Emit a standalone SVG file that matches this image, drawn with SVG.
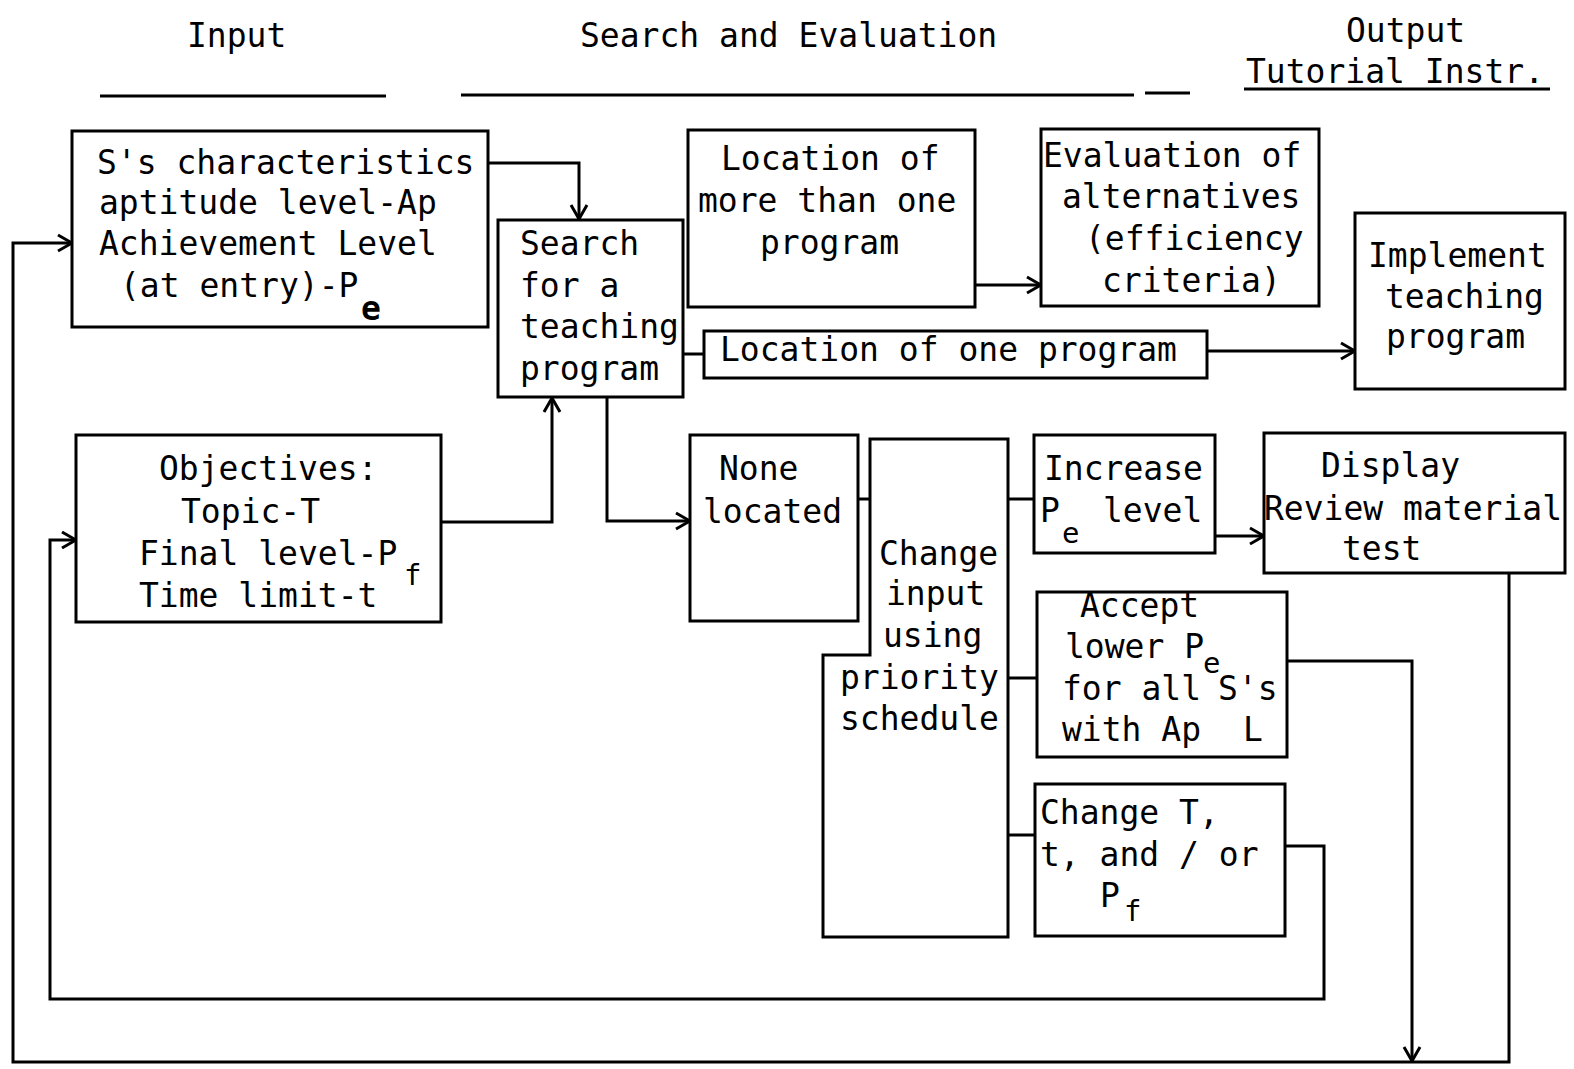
<svg xmlns="http://www.w3.org/2000/svg" width="1574" height="1069" viewBox="0 0 1574 1069">
<style>
.t{font-family:"DejaVu Sans Mono","Liberation Mono",monospace;font-size:33px;fill:#000}
.s{font-family:"DejaVu Sans Mono","Liberation Mono",monospace;font-size:29px;fill:#000}
.b{fill:#fff;stroke:#000;stroke-width:3}
.c{fill:none;stroke:#000;stroke-width:3}
.u{stroke:#000;stroke-width:3}
</style>
<defs>
<marker id="ah" viewBox="0 0 20 20" refX="18" refY="10" markerWidth="20" markerHeight="20" markerUnits="userSpaceOnUse" orient="auto">
<path d="M4,2 L18,10 L4,18" fill="none" stroke="#000" stroke-width="3"/>
</marker>
</defs>
<rect width="1574" height="1069" fill="#fff"/>

<g id="headers">
<text class="t" x="187" y="47">Input</text>
<text class="t" x="580" y="47">Search and Evaluation</text>
<text class="t" x="1346" y="42">Output</text>
<text class="t" x="1246" y="83">Tutorial Instr.</text>
<line class="u" x1="100" y1="96" x2="386" y2="96"/>
<line class="u" x1="461" y1="95" x2="1134" y2="95"/>
<line class="u" x1="1145" y1="93" x2="1190" y2="93"/>
<line class="u" x1="1244" y1="89" x2="1550" y2="89"/>
</g>

<g id="connectors">
<path class="c" d="M488,163 H579 V219" marker-end="url(#ah)"/>
<path class="c" d="M441,522 H552 V398" marker-end="url(#ah)"/>
<path class="c" d="M607,397 V521 H690" marker-end="url(#ah)"/>
<path class="c" d="M682,354 H704"/>
<path class="c" d="M975,285 H1041" marker-end="url(#ah)"/>
<path class="c" d="M1207,351 H1355" marker-end="url(#ah)"/>
<path class="c" d="M858,499 H870"/>
<path class="c" d="M1008,499 H1034"/>
<path class="c" d="M1008,678 H1037"/>
<path class="c" d="M1008,835 H1035"/>
<path class="c" d="M1215,536 H1264" marker-end="url(#ah)"/>
<path class="c" d="M1509,573 V1062 H13 V243 H72" marker-end="url(#ah)"/>
<path class="c" d="M1287,661 H1412 V1061" marker-end="url(#ah)"/>
<path class="c" d="M1285,846 H1324 V999 H50 V540 H76" marker-end="url(#ah)"/>
</g>

<g id="n-chars">
<rect class="b" x="72" y="131" width="416" height="196"/>
<text class="t" x="97" y="174">S's characteristics</text>
<text class="t" x="99" y="214">aptitude level-Ap</text>
<text class="t" x="99" y="255">Achievement Level</text>
<text class="t" x="120" y="297">(at entry)-P</text>
<text class="t" x="361" y="320" font-weight="bold">e</text>
</g>

<g id="n-search">
<rect class="b" x="498" y="220" width="185" height="177"/>
<text class="t" x="520" y="255">Search</text>
<text class="t" x="520" y="297">for a</text>
<text class="t" x="520" y="338">teaching</text>
<text class="t" x="520" y="380">program</text>
</g>

<g id="n-more">
<rect class="b" x="688" y="130" width="287" height="177"/>
<text class="t" x="721" y="170">Location of</text>
<text class="t" x="698" y="212">more than one</text>
<text class="t" x="760" y="254">program</text>
</g>

<g id="n-eval">
<rect class="b" x="1041" y="129" width="278" height="177"/>
<text class="t" x="1043" y="167">Evaluation of</text>
<text class="t" x="1062" y="208">alternatives</text>
<text class="t" x="1085" y="250">(efficiency</text>
<text class="t" x="1102" y="292">criteria)</text>
</g>

<g id="n-one">
<rect class="b" x="704" y="331" width="503" height="47"/>
<text class="t" x="720" y="361">Location of one program</text>
</g>

<g id="n-impl">
<rect class="b" x="1355" y="213" width="210" height="176"/>
<text class="t" x="1368" y="267">Implement</text>
<text class="t" x="1385" y="308">teaching</text>
<text class="t" x="1386" y="348">program</text>
</g>

<g id="n-obj">
<rect class="b" x="76" y="435" width="365" height="187"/>
<text class="t" x="159" y="480">Objectives:</text>
<text class="t" x="181" y="523">Topic-T</text>
<text class="t" x="139" y="565">Final level-P</text>
<text class="s" x="404" y="585">f</text>
<text class="t" x="139" y="607">Time limit-t</text>
</g>

<g id="n-none">
<rect class="b" x="690" y="435" width="168" height="186"/>
<text class="t" x="719" y="480">None</text>
<text class="t" x="703" y="523">located</text>
</g>

<g id="n-change">
<path class="b" d="M870,439 H1008 V937 H823 V655 H870 Z"/>
<text class="t" x="879" y="565">Change</text>
<text class="t" x="886" y="605">input</text>
<text class="t" x="883" y="647">using</text>
<text class="t" x="840" y="689">priority</text>
<text class="t" x="840" y="730">schedule</text>
</g>

<g id="n-inc">
<rect class="b" x="1034" y="435" width="181" height="118"/>
<text class="t" x="1044" y="480">Increase</text>
<text class="t" x="1040" y="522">P</text>
<text class="s" x="1062" y="543">e</text>
<text class="t" x="1103" y="522">level</text>
</g>

<g id="n-display">
<rect class="b" x="1264" y="433" width="301" height="140"/>
<text class="t" x="1321" y="477">Display</text>
<text class="t" x="1264" y="520">Review material</text>
<text class="t" x="1342" y="560">test</text>
</g>

<g id="n-accept">
<rect class="b" x="1037" y="592" width="250" height="165"/>
<text class="t" x="1080" y="617">Accept</text>
<text class="t" x="1065" y="658">lower P</text>
<text class="s" x="1203" y="673">e</text>
<text class="t" x="1062" y="700">for all</text>
<text class="t" x="1218" y="700">S's</text>
<text class="t" x="1062" y="741">with Ap</text>
<text class="t" x="1243" y="741">L</text>
</g>

<g id="n-changeT">
<rect class="b" x="1035" y="784" width="250" height="152"/>
<text class="t" x="1040" y="824">Change T,</text>
<text class="t" x="1040" y="866">t, and / or</text>
<text class="t" x="1100" y="907">P</text>
<text class="s" x="1124" y="921">f</text>
</g>
</svg>
